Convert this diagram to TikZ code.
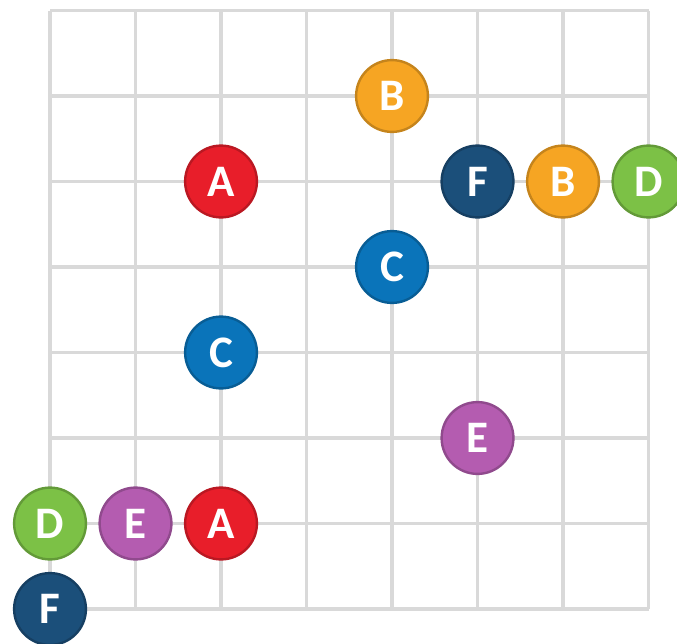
\documentclass[tikz,border=0pt]{standalone}
\usepackage{fontspec}
\setmainfont{Carlito}
\usepackage{tikz}
\usepackage{xcolor}
\definecolor{gridgray}{RGB}{217,217,217}
\definecolor{tokred}{RGB}{232,30,42}
\definecolor{tokorange}{RGB}{246,165,35}
\definecolor{tokgreen}{RGB}{124,193,70}
\definecolor{tokpurple}{RGB}{180,92,176}
\definecolor{toknavy}{RGB}{27,79,122}
\definecolor{tokblue}{RGB}{10,116,186}

\begin{document}
\begin{tikzpicture}[
  gridline/.style={draw=gridgray, line width=1.2pt},
  token/.style={circle, minimum size=0.84cm, inner sep=0pt, line width=0.8pt,
                text=white, font=\fontsize{15}{15}\selectfont\bfseries},
  red/.style={token, fill=tokred, draw=tokred!80!black},
  orange/.style={token, fill=tokorange, draw=tokorange!80!black},
  green/.style={token, fill=tokgreen, draw=tokgreen!80!black},
  purple/.style={token, fill=tokpurple, draw=tokpurple!80!black},
  navy/.style={token, fill=toknavy, draw=toknavy!80!black},
  blue/.style={token, fill=tokblue, draw=tokblue!80!black}
]
\useasboundingbox (-0.585,-0.398) rectangle (7.333,7.123);
% board
\foreach \i in {0,...,7} {
  \draw[gridline] (\i,0) -- (\i,7);
  \draw[gridline] (0,\i) -- (7,\i);
}
% tokens
\node[orange] (b1) at (4,6) {B};
\node[red]    (a1) at (2,5) {A};
\node[navy]   (f1) at (5,5) {F};
\node[orange] (b2) at (6,5) {B};
\node[green]  (d1) at (7,5) {D};
\node[blue]   (c1) at (4,4) {C};
\node[blue]   (c2) at (2,3) {C};
\node[purple] (e1) at (5,2) {E};
\node[green]  (d2) at (0,1) {D};
\node[purple] (e2) at (1,1) {E};
\node[red]    (a2) at (2,1) {A};
\node[navy]   (f2) at (0,0) {F};
\end{tikzpicture}
\end{document}
